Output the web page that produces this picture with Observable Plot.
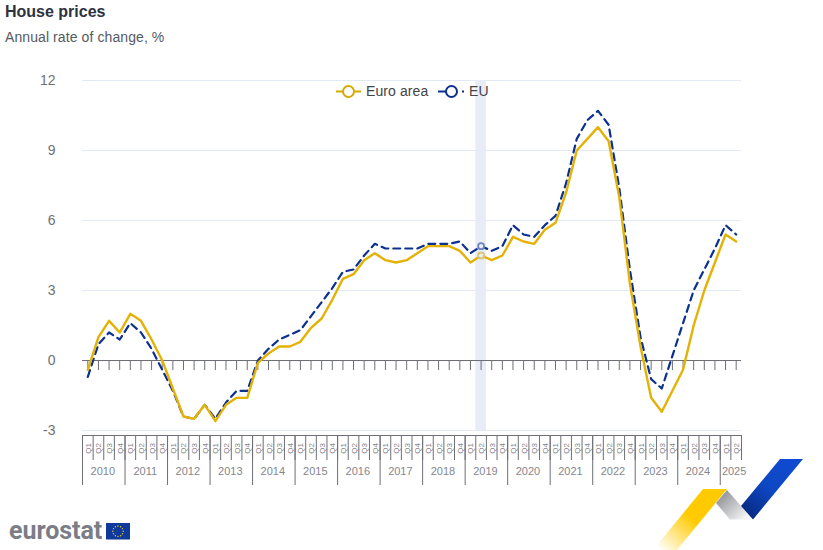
<!DOCTYPE html>
<html>
<head>
<meta charset="utf-8">
<script src="https://cdn.jsdelivr.net/npm/d3@7"></script>
<script src="https://cdn.jsdelivr.net/npm/@observablehq/plot@0.6"></script>
<style>
html,body{margin:0;padding:0;background:#fff;font-family:"Liberation Sans",Arial,sans-serif}
#wrap{position:relative;width:823px;height:550px;overflow:hidden}
#wrap>*{position:absolute}
#title{left:5px;top:2px;font-size:16px;font-weight:700;color:#2d3340;line-height:20px}
#sub{left:5px;top:28px;font-size:14px;color:#555a63;line-height:18px;letter-spacing:.09px}
.lg{top:82px;font-size:14px;color:#444;line-height:18px;letter-spacing:.1px}
#chart{left:0;top:0}
#deco{left:0;top:0;pointer-events:none}
#logo{left:9px;top:516px;font-family:"Roboto","Liberation Sans",sans-serif;font-size:25px;font-weight:700;color:#7a7d86;line-height:30px;letter-spacing:-.05px}
</style>
</head>
<body>
<div id="wrap">
  <div id="chart"></div>
  <svg id="deco" width="823" height="550">
    <defs>
      <linearGradient id="gy" gradientUnits="userSpaceOnUse" x1="715" y1="489" x2="660" y2="550"><stop offset="0" stop-color="#ffcb00"/><stop offset=".45" stop-color="#ffcb00"/><stop offset="1" stop-color="#ffcb00" stop-opacity="0"/></linearGradient>
      <linearGradient id="gg" gradientUnits="userSpaceOnUse" x1="718" y1="495" x2="742" y2="520"><stop offset="0" stop-color="#8d8f94"/><stop offset="1" stop-color="#f3f3f4"/></linearGradient>
      <linearGradient id="gb" gradientUnits="userSpaceOnUse" x1="790" y1="459" x2="745" y2="515"><stop offset="0" stop-color="#0e4bd0"/><stop offset=".5" stop-color="#0e47c4"/><stop offset="1" stop-color="#07297f"/></linearGradient>
    </defs>
    <polygon points="703,489 727,489 677,550 653,550" fill="url(#gy)"/>
    <polygon points="727,490 716,503 730,519.5 753,519.5" fill="url(#gg)"/>
    <polygon points="780,459 803,459 753,519.5 741,506" fill="url(#gb)"/>
    <g fill="none">
      <line x1="336" x2="361" y1="91.5" y2="91.5" stroke="#d6a900" stroke-width="2"/>
      <circle cx="348.5" cy="91.5" r="5.5" fill="#fff" stroke="#d6a900" stroke-width="2"/>
      <line x1="438" x2="466" y1="91.5" y2="91.5" stroke="#0b318f" stroke-width="2" stroke-dasharray="12 12 2 2"/>
      <circle cx="451.5" cy="91.5" r="5.5" fill="#fff" stroke="#0b318f" stroke-width="2"/>
    </g>
    <rect x="106" y="523" width="24" height="16.5" fill="#0f3a9c"/>
    <g id="stars" fill="#f3cc2e"></g>
  </svg>
  <div id="title">House prices</div>
  <div id="sub">Annual rate of change, %</div>
  <div class="lg" style="left:366px">Euro area</div>
  <div class="lg" style="left:469px">EU</div>
  <div id="logo">eurostat</div>
</div>
<script>
const years = [2010,2011,2012,2013,2014,2015,2016,2017,2018,2019,2020,2021,2022,2023,2024,2025];
const quarterNames = ["Q1","Q2","Q3","Q4"];
const euroArea = [
  -0.4,1.0,1.7,1.2, 2.0,1.7,0.9,0.0, -1.2,-2.4,-2.5,-1.9, -2.6,-1.9,-1.6,-1.6,
  -0.1,0.3,0.6,0.6, 0.8,1.4,1.8,2.6, 3.5,3.7,4.3,4.6, 4.3,4.2,4.3,4.6,
  4.9,4.9,4.9,4.7, 4.2,4.5,4.3,4.5, 5.3,5.1,5.0,5.6, 5.9,7.2,9.0,9.5,
  10.0,9.4,7.0,3.3, 0.6,-1.6,-2.2,-1.3, -0.4,1.5,3.0,4.2, 5.4,5.1
];
const eu = [
  -0.7,0.7,1.2,0.9, 1.6,1.2,0.5,-0.4, -1.3,-2.4,-2.5,-1.9, -2.5,-1.8,-1.3,-1.3,
  0.0,0.5,0.9,1.1, 1.3,1.9,2.5,3.1, 3.8,3.9,4.5,5.0, 4.8,4.8,4.8,4.8,
  5.0,5.0,5.0,5.1, 4.6,4.9,4.7,4.9, 5.8,5.4,5.3,5.8, 6.2,7.6,9.5,10.3,
  10.7,10.1,7.4,3.9, 1.0,-0.8,-1.2,0.2, 1.6,3.0,3.9,4.8, 5.8,5.4
];
const gridValues = [12,9,6,3,-3];
const yTicks = [12,9,6,3,0,-3];
const highlightIndex = 37;

const quarters = euroArea.map((_, i) => ({
  i, x: i + 0.5,
  year: years[Math.floor(i / 4)],
  q: quarterNames[i % 4],
  ea: euroArea[i], eu: eu[i]
}));
const quarterEdges = d3.range(0, quarters.length + 1);
const yearEdges = quarterEdges.filter(i => i % 4 === 0 && i < quarters.length);
const yearCentres = years.map((y, k) => ({y, x: Math.min(k * 4 + 2, quarters.length - 1) + (y === 2025 ? 0.4 : 0)}));
const hl = quarters[highlightIndex];
const grey = "#6e6f75", label = "#85868c";
const axisFont = {fontFamily: "Liberation Sans, Arial, sans-serif"};

const plot = Plot.plot({
  width: 823, height: 550,
  marginLeft: 82, marginRight: 82, marginTop: 80, marginBottom: 120,
  style: {background: "transparent", ...axisFont, overflow: "visible"},
  x: {domain: [0, quarters.length], axis: null},
  y: {domain: [-3, 12], axis: null},
  marks: [
    Plot.ruleY(gridValues, {stroke: "#e3e8f5", strokeWidth: 1}),
    Plot.rectY([hl], {x1: d => d.i, x2: d => d.i + 1, y1: -3, y2: 12, fill: "#e8ecf6"}),
    Plot.ruleY([0], {stroke: grey, strokeWidth: 1.2}),
    Plot.ruleX(quarters, {x: "x", y1: 0, y2: -0.43, stroke: grey, strokeWidth: 1}),
    Plot.text(yTicks, {x: 0, y: d => d, text: d => String(d), textAnchor: "end", dx: -27, fontSize: 14, fill: "#707177"}),
    Plot.ruleY([-3], {dy: 5, stroke: grey, strokeWidth: 1}),
    Plot.axisX(quarterEdges, {anchor: "bottom", dy: 5, tickSize: 25, tickPadding: 0, tickFormat: () => "", stroke: grey, label: null}),
    Plot.axisX(yearEdges, {anchor: "bottom", dy: 5, tickSize: 50, tickPadding: 0, tickFormat: () => "", stroke: grey, label: null}),
    Plot.text(quarters, {x: "x", frameAnchor: "bottom", dx: 3, dy: 18, text: "q", rotate: -90, fontSize: 8, fill: label}),
    Plot.text(yearCentres, {x: "x", frameAnchor: "bottom", dx: -1, dy: 44, text: d => String(d.y), fontSize: 11, fill: label}),
    Plot.line(quarters, {x: "x", y: "eu", stroke: "#0b318f", strokeWidth: 2.2, strokeDasharray: "7 5", curve: "linear"}),
    Plot.line(quarters, {x: "x", y: "ea", stroke: "#e3b205", strokeWidth: 2.4, curve: "linear"}),
    Plot.dot([hl], {x: "x", y: "eu", r: 3, stroke: "#6f86bd", strokeWidth: 1.8, fill: "#e8ecf6"}),
    Plot.dot([hl], {x: "x", y: "ea", r: 3, stroke: "#d9c574", strokeWidth: 1.8, fill: "#e8ecf6"})
  ]
});
document.getElementById("chart").appendChild(plot);

const stars = d3.select("#stars");
d3.range(12).forEach(k => {
  const a = k * Math.PI / 6;
  stars.append("circle").attr("cx", 118 + 5.2 * Math.cos(a)).attr("cy", 531.2 + 5.2 * Math.sin(a)).attr("r", 0.7);
});
</script>
</body>
</html>
